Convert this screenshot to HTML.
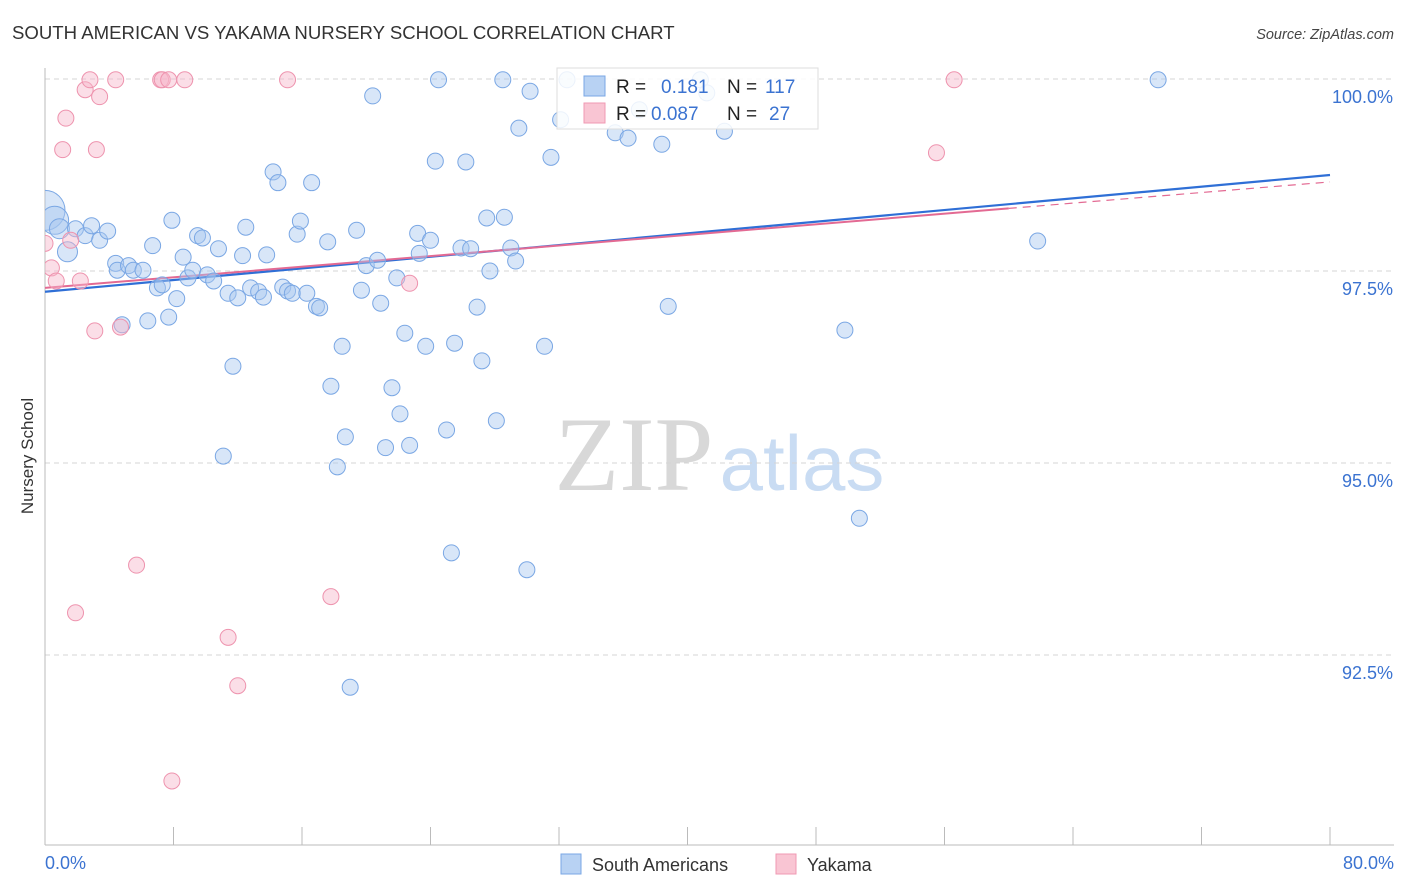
<!DOCTYPE html>
<html><head><meta charset="utf-8">
<style>
body{margin:0;background:#fff;font-family:"Liberation Sans",sans-serif;}
svg{display:block;}
</style></head>
<body>
<svg id="chart" width="1406" height="892" viewBox="0 0 1406 892" xmlns="http://www.w3.org/2000/svg">
<defs><clipPath id="plotclip"><rect x="45" y="55" width="1360" height="790"/></clipPath></defs>
<text x="12" y="39" font-size="18.6" fill="#333">SOUTH AMERICAN VS YAKAMA NURSERY SCHOOL CORRELATION CHART</text>
<text x="1394" y="39" font-size="14.5" fill="#444" font-style="italic" text-anchor="end">Source: ZipAtlas.com</text>
<text transform="translate(33,456) rotate(-90)" font-size="17" fill="#333" text-anchor="middle">Nursery School</text>
<g>
<text x="634" y="490" font-family="Liberation Serif,serif" font-size="106" fill="#d8d8d8" text-anchor="middle">ZIP</text>
<text x="802" y="490" font-size="78" fill="#c9dcf3" text-anchor="middle">atlas</text>
</g>
<g id="grid"></g><g id="axes"></g><g id="trend"></g><g id="pts" clip-path="url(#plotclip)"></g>
<g>
<rect x="557" y="68" width="261" height="61" fill="#fff" fill-opacity="0.85" stroke="#ddd"/>
<rect x="584" y="76" width="21" height="20" fill="#b8d2f3" stroke="#7aa7e4"/>
<rect x="584" y="103" width="21" height="20" fill="#f9c5d3" stroke="#f099b3"/>
<text x="616" y="93" font-size="19" fill="#222">R =</text>
<text x="661" y="93" font-size="19" fill="#3b73d1">0.181</text>
<text x="727" y="93" font-size="19" fill="#222">N =</text>
<text x="765" y="93" font-size="19" fill="#3b73d1">117</text>
<text x="616" y="120" font-size="19" fill="#222">R =</text>
<text x="651" y="120" font-size="19" fill="#3b73d1">0.087</text>
<text x="727" y="120" font-size="19" fill="#222">N =</text>
<text x="769" y="120" font-size="19" fill="#3b73d1">27</text>
</g>
<g>
<rect x="561" y="854" width="20" height="20" fill="#b8d2f3" stroke="#7aa7e4"/>
<text x="592" y="871" font-size="18" fill="#333">South Americans</text>
<rect x="776" y="854" width="20" height="20" fill="#f9c5d3" stroke="#f099b3"/>
<text x="807" y="871" font-size="18" fill="#333">Yakama</text>
</g>
</svg>
<script>
const blueX=[0.0,0.6,0.9,1.4,1.9,2.5,2.9,3.4,3.9,4.4,4.5,5.2,5.5,6.1,6.7,7.0,7.3,7.9,8.2,8.6,8.9,9.2,9.5,9.8,10.1,10.5,10.8,11.4,11.7,11.1,12.0,12.3,12.5,12.8,13.3,13.6,13.8,14.2,14.5,14.8,15.1,15.4,15.7,15.9,16.3,16.6,16.9,17.1,17.6,17.8,18.2,18.5,18.7,19.0,19.4,19.7,20.0,20.4,20.7,20.9,21.2,21.6,21.9,22.1,22.4,22.7,23.2,23.3,23.7,24.0,24.3,24.5,25.0,25.3,25.5,25.9,26.2,26.5,26.9,27.2,27.5,27.7,28.1,28.5,28.6,29.0,29.3,29.5,30.0,30.2,31.1,31.5,32.1,32.5,35.5,36.3,37.0,38.4,38.8,40.8,41.2,42.3,49.8,50.7,61.8,69.3,4.8,6.4,7.7];
const blueY=[98.29,98.16,98.05,97.75,98.05,97.96,98.09,97.90,98.02,97.60,97.51,97.57,97.51,97.51,97.83,97.28,97.32,98.16,97.14,97.68,97.41,97.51,97.96,97.93,97.45,97.37,97.79,97.21,96.26,95.09,97.15,97.70,98.07,97.28,97.23,97.16,97.71,98.79,98.65,97.29,97.24,97.21,97.98,98.15,97.21,98.65,97.04,97.02,97.88,96.00,94.95,96.52,95.34,92.08,98.03,97.25,97.57,99.78,97.64,97.08,95.20,95.98,97.41,95.64,96.69,95.23,97.99,97.73,96.52,97.90,98.93,99.99,95.43,93.83,96.56,97.80,98.92,97.79,97.03,96.33,98.19,97.50,95.55,99.99,98.20,97.80,97.63,99.36,93.61,99.84,96.52,98.98,99.47,99.99,99.30,99.23,99.60,99.15,97.04,99.99,99.82,99.32,96.73,94.28,97.89,99.99,96.80,96.85,96.90];
const blueR=[20,14,10,10];
const pinkX=[0.0,0.4,0.7,1.3,1.1,1.6,2.2,2.5,2.8,3.2,3.1,3.4,4.4,4.7,5.7,7.2,7.3,7.7,7.9,8.7,11.4,12.0,15.1,17.8,22.7,1.9,55.5,56.6];
const pinkY=[97.86,97.54,97.37,99.49,99.08,97.90,97.37,99.86,99.99,99.08,96.72,99.77,99.99,96.77,93.67,99.99,99.99,99.99,90.86,99.99,92.73,92.10,99.99,93.26,97.34,93.05,99.04,99.99];
const yTicks=[100,97.5,95,92.5];
const yTickLabels=["100.0%","97.5%","95.0%","92.5%"];
const xTicks=[0,8,16,24,32,40,48,56,64,72,80];
const blueTrend=[97.23,98.75];
const pinkTrend=[97.28,98.66];
const pinkSolidEnd=60;

const NS="http://www.w3.org/2000/svg";
const X=v=>45+v*(1330-45)/80;
const Y=v=>79+(100-v)*192/2.5;
function mk(tag,attrs,parent){const e=document.createElementNS(NS,tag);for(const k in attrs)e.setAttribute(k,attrs[k]);parent.appendChild(e);return e;}
const grid=document.getElementById('grid'),axes=document.getElementById('axes'),trend=document.getElementById('trend'),pts=document.getElementById('pts');
yTicks.forEach((t,i)=>{
 const l=mk('line',{x1:45,x2:1394,y1:Y(t),y2:Y(t),stroke:'#d5d5d5','stroke-dasharray':'5,4'},grid);
 
 
 const tx=mk('text',{x:1393,y:Y(t)+24,'font-size':18,fill:'#3b73d1','text-anchor':'end'},axes);
 tx.textContent=yTickLabels[i];
 
 
});
const ax=mk('line',{x1:45,x2:1394,y1:845,y2:845,stroke:'#bbb'},axes);


const ay=mk('line',{x1:45,x2:45,y1:68,y2:845,stroke:'#bbb'},axes);


xTicks.forEach(t=>{
 const l=mk('line',{x1:X(t),x2:X(t),y1:827,y2:845,stroke:'#bbb'},axes);
 
 
});
const xl0=mk('text',{x:45,y:869,'font-size':18,fill:'#3b73d1'},axes);xl0.textContent='0.0%';


const xl1=mk('text',{x:1394,y:869,'font-size':18,fill:'#3b73d1','text-anchor':'end'},axes);xl1.textContent='80.0%';



blueX.forEach((v,i)=>{
 const c=mk('circle',{cx:X(v),cy:Y(blueY[i]),r:blueR[i]||8,fill:'#a9c8ef','fill-opacity':0.45,stroke:'#7aa7e4','stroke-width':1},pts);
 
 
});
pinkX.forEach((v,i)=>{
 const c=mk('circle',{cx:X(v),cy:Y(pinkY[i]),r:8,fill:'#f7b6c9','fill-opacity':0.45,stroke:'#ee93ae','stroke-width':1},pts);
 
 
});
const bl=mk('line',{x1:X(0),y1:Y(blueTrend[0]),x2:X(80),y2:Y(blueTrend[1]),stroke:'#2f6fd6','stroke-width':2.2},trend);


const pe=pinkTrend[0]+(pinkTrend[1]-pinkTrend[0])*pinkSolidEnd/80;
const pl=mk('line',{x1:X(0),y1:Y(pinkTrend[0]),x2:X(pinkSolidEnd),y2:Y(pe),stroke:'#e36a93','stroke-width':2},trend);


const pd=mk('line',{x1:X(pinkSolidEnd),y1:Y(pe),x2:X(80),y2:Y(pinkTrend[1]),stroke:'#e36a93','stroke-width':1.2,'stroke-dasharray':'8,6'},trend);


</script>
</body></html>
